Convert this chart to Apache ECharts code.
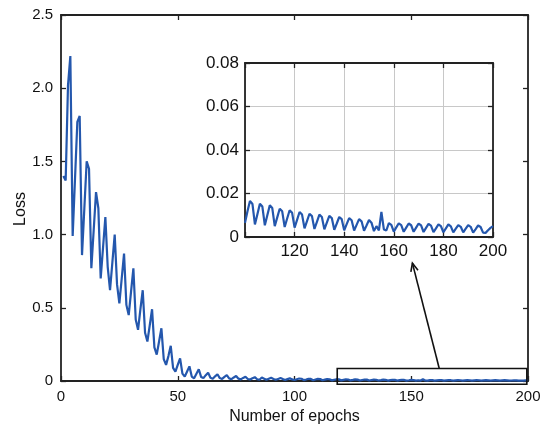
<!DOCTYPE html>
<html>
<head>
<meta charset="utf-8">
<script src="https://cdn.jsdelivr.net/npm/echarts@6/dist/echarts.min.js"></script>
<style>
html,body{margin:0;padding:0;background:#fff;}
#chart{width:552px;height:430px;}
</style>
</head>
<body>
<div id="chart"></div>
<script>
// Loss per epoch (epochs 1..200)
const lossEp1to50 = [
  1.40, 1.37, 2.02, 2.22, 0.99, 1.38, 1.77, 1.81, 0.86, 1.18,
  1.50, 1.45, 0.77, 1.03, 1.29, 1.18, 0.70, 0.91, 1.12, 0.78,
  0.62, 0.81, 1.00, 0.66, 0.53, 0.70, 0.87, 0.52, 0.45, 0.61,
  0.77, 0.42, 0.35, 0.49, 0.62, 0.33, 0.27, 0.38, 0.49, 0.23,
  0.18, 0.27, 0.36, 0.15, 0.11, 0.17, 0.24, 0.09, 0.064, 0.11
];
const lossEp51to100 = [
  0.155, 0.05, 0.03, 0.065, 0.10, 0.03, 0.018, 0.05, 0.08, 0.028,
  0.02, 0.04, 0.057, 0.022, 0.016, 0.032, 0.046, 0.02, 0.014, 0.028,
  0.04, 0.018, 0.012, 0.024, 0.034, 0.016, 0.011, 0.021, 0.029, 0.014,
  0.010, 0.019, 0.026, 0.012, 0.009, 0.024, 0.016, 0.008, 0.015, 0.022,
  0.014, 0.008, 0.014, 0.020, 0.013, 0.007, 0.013, 0.018, 0.011, 0.0065
];
const lossEp101to150 = [
  0.0118, 0.0166, 0.0152, 0.0058, 0.0105, 0.0153, 0.0140, 0.0054, 0.0100, 0.0146,
  0.0133, 0.0050, 0.0090, 0.0130, 0.0118, 0.0046, 0.0085, 0.0123, 0.0111, 0.0043,
  0.0079, 0.0115, 0.0103, 0.0040, 0.0073, 0.0107, 0.0096, 0.0037, 0.0070, 0.0103,
  0.0092, 0.0035, 0.0066, 0.0097, 0.0087, 0.0033, 0.0062, 0.0092, 0.0082, 0.0031,
  0.0059, 0.0087, 0.0077, 0.0030, 0.0056, 0.0082, 0.0072, 0.0029, 0.0053, 0.0078
];
const lossEp151to200 = [
  0.0066, 0.0027, 0.0050, 0.0030, 0.0115, 0.0035, 0.0030, 0.0064, 0.0056, 0.0025,
  0.0044, 0.0063, 0.0055, 0.0024, 0.0043, 0.0062, 0.0054, 0.0024, 0.0043, 0.0062,
  0.0053, 0.0023, 0.0042, 0.0060, 0.0052, 0.0022, 0.0040, 0.0058, 0.0050, 0.0022,
  0.0040, 0.0058, 0.0049, 0.0021, 0.0038, 0.0055, 0.0047, 0.0021, 0.0038, 0.0055,
  0.0047, 0.0020, 0.0036, 0.0053, 0.0046, 0.0020, 0.0019, 0.0031, 0.0042, 0.0050
];

const xAxisTitle = 'Number of epochs';
const yAxisTitle = 'Loss';
// zoom window (data coords of main plot) and inset range
const zoomWindowEpochs = [118.3, 199.5];
const zoomWindowLoss = [-0.022, 0.085];
const insetEpochRange = [100, 200];
const insetLossRange = [0, 0.08];

const loss = [].concat(lossEp1to50, lossEp51to100, lossEp101to150, lossEp151to200);
const points = loss.map((v, i) => [i + 1, v]);
const insetPoints = points.filter(p => p[0] >= insetEpochRange[0]);

const BLUE = '#2457ad';
const AX = '#222222';
const FONT = '"Liberation Sans", Arial, sans-serif';

const chart = echarts.init(document.getElementById('chart'), null, {renderer: 'canvas'});

function frameAxis(extra) {
  return Object.assign({
    axisLine: {show: true, onZero: false, lineStyle: {color: AX, width: 1.8}},
    axisTick: {show: true, inside: true, length: 5, lineStyle: {color: AX, width: 1.3}},
    splitLine: {show: false}
  }, extra);
}

const option = {
  animation: false,
  backgroundColor: '#ffffff',
  textStyle: {fontFamily: FONT},
  grid: [
    {left: 61, right: 24, top: 15, bottom: 49},
    {left: 245, right: 59, top: 63, bottom: 193, show: true, backgroundColor: '#ffffff', borderWidth: 0, z: 3}
  ],
  xAxis: [
    frameAxis({
      type: 'value', gridIndex: 0, min: 0, max: 200, interval: 50,
      axisLabel: {fontSize: 15, color: '#111', margin: 8, fontFamily: FONT},
      name: xAxisTitle, nameLocation: 'middle', nameGap: 24,
      nameTextStyle: {fontSize: 16, color: '#111', fontFamily: FONT}
    }),
    frameAxis({type: 'value', gridIndex: 0, position: 'top', min: 0, max: 200, interval: 50, axisLabel: {show: false}}),
    frameAxis({
      type: 'value', gridIndex: 1, min: insetEpochRange[0], max: insetEpochRange[1], interval: 20, z: 4,
      axisLabel: {fontSize: 17, color: '#111', margin: 6, fontFamily: FONT,
        formatter: v => (v === insetEpochRange[0] ? '' : String(v))},
      splitLine: {show: true, lineStyle: {color: '#c8c8c8', width: 1}}
    }),
    frameAxis({type: 'value', gridIndex: 1, position: 'top', min: insetEpochRange[0], max: insetEpochRange[1], interval: 20, z: 4, axisLabel: {show: false}})
  ],
  yAxis: [
    frameAxis({
      type: 'value', gridIndex: 0, min: 0, max: 2.5, interval: 0.5,
      axisLabel: {fontSize: 15, color: '#111', margin: 8, fontFamily: FONT,
        formatter: v => (v === 0 ? '0' : v.toFixed(1))}
    }),
    frameAxis({type: 'value', gridIndex: 0, position: 'right', min: 0, max: 2.5, interval: 0.5, axisLabel: {show: false}}),
    frameAxis({
      type: 'value', gridIndex: 1, min: insetLossRange[0], max: insetLossRange[1], interval: 0.02, z: 4,
      axisLabel: {fontSize: 17, color: '#111', margin: 6, fontFamily: FONT,
        formatter: v => (v === 0 ? '0' : v.toFixed(2))},
      splitLine: {show: true, lineStyle: {color: '#c8c8c8', width: 1}}
    }),
    frameAxis({type: 'value', gridIndex: 1, position: 'right', min: insetLossRange[0], max: insetLossRange[1], interval: 0.02, z: 4, axisLabel: {show: false}})
  ],
  series: [
    {
      type: 'line', xAxisIndex: 0, yAxisIndex: 0, data: points,
      showSymbol: false, symbol: 'none', lineStyle: {color: BLUE, width: 2.2}, z: 2
    },
    {
      type: 'line', xAxisIndex: 2, yAxisIndex: 2, data: insetPoints,
      showSymbol: false, symbol: 'none', lineStyle: {color: BLUE, width: 2.2}, z: 5, clip: true
    }
  ]
};
chart.setOption(option);

// annotations: zoom rectangle, arrow, rotated y title
const p1 = chart.convertToPixel({xAxisIndex: 0, yAxisIndex: 0}, [zoomWindowEpochs[0], zoomWindowLoss[1]]);
const p2 = chart.convertToPixel({xAxisIndex: 0, yAxisIndex: 0}, [zoomWindowEpochs[1], zoomWindowLoss[0]]);
const tail = chart.convertToPixel({xAxisIndex: 0, yAxisIndex: 0}, [162, zoomWindowLoss[1]]);
const head = chart.convertToPixel({xAxisIndex: 2, yAxisIndex: 2}, [167.5, -0.012]);
const ang = Math.atan2(head[1] - tail[1], head[0] - tail[0]);
const hl = 9, ha = 0.42;
const w1 = [head[0] - hl * Math.cos(ang - ha), head[1] - hl * Math.sin(ang - ha)];
const w2 = [head[0] - hl * Math.cos(ang + ha), head[1] - hl * Math.sin(ang + ha)];

chart.setOption({
  graphic: [
    {type: 'rect', z: 10, shape: {x: p1[0], y: p1[1], width: p2[0] - p1[0], height: p2[1] - p1[1]},
      style: {fill: 'none', stroke: '#111', lineWidth: 1.6}},
    {type: 'line', z: 10, shape: {x1: tail[0], y1: tail[1], x2: head[0], y2: head[1]},
      style: {stroke: '#111', lineWidth: 1.6}},
    {type: 'polyline', z: 10, shape: {points: [w1, head, w2]},
      style: {fill: 'none', stroke: '#111', lineWidth: 1.6}},
    {type: 'text', z: 10, x: 21, y: 209, rotation: Math.PI / 2,
      style: {text: yAxisTitle, fontSize: 16, fontFamily: FONT, fill: '#111', align: 'center', verticalAlign: 'middle'}}
  ]
});
</script>
</body>
</html>
